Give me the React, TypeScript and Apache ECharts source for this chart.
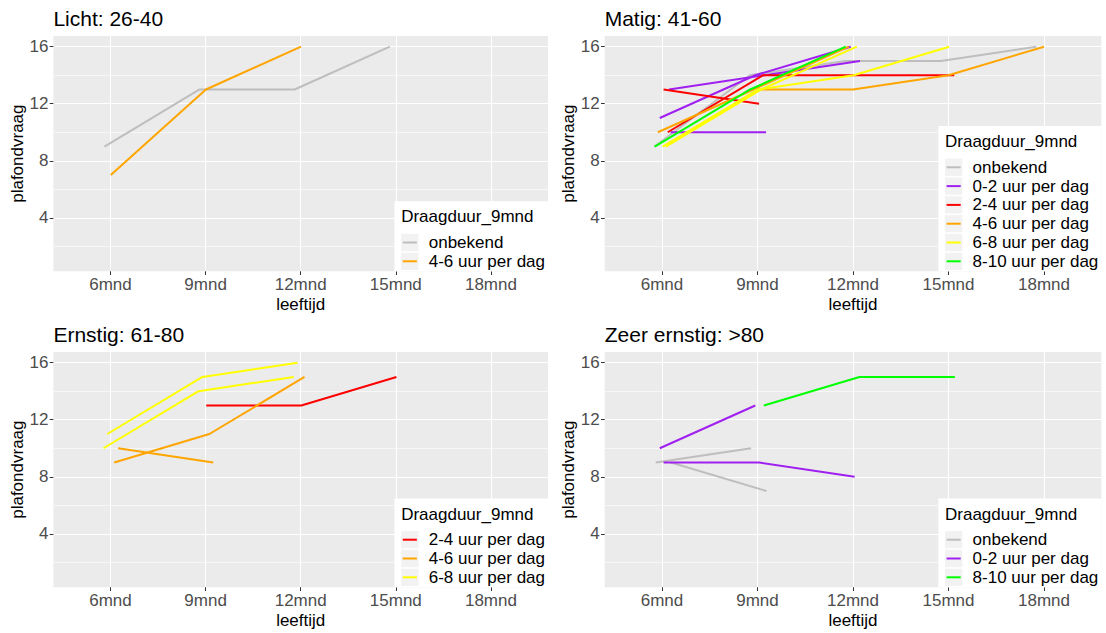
import React, { useEffect, useRef } from "react";
import * as echarts from "echarts";

// ---------- data ----------
const timepoints = [6, 9, 12, 15, 18];
const xTickValues = [6, 9, 12, 15, 18];
const xTickLabels = ["6mnd", "9mnd", "12mnd", "15mnd", "18mnd"];
const yTickValues = [4, 8, 12, 16];
const yMinorValues = [2, 6, 10, 14];
const xRange = [4.2, 19.8];
const yRange = [0.25, 16.75];

const groups = [
  "onbekend",
  "0-2 uur per dag",
  "2-4 uur per dag",
  "4-6 uur per dag",
  "6-8 uur per dag",
  "8-10 uur per dag",
];
const groupColors = ["#BEBEBE", "#A020F0", "#FF0000", "#FFA500", "#FFFF00", "#00FF00"];

const panelTitles = ["Licht: 26-40", "Matig: 41-60", "Ernstig: 61-80", "Zeer ernstig: >80"];
const legendTitle = "Draagduur_9mnd";
const xName = "leeftijd";
const yName = "plafondvraag";

type Subject = { group: string; jitter: number; values: (number | null)[] };

const lichtSubjects: Subject[] = [
  { group: "onbekend", jitter: -0.19, values: [9, 13, 13, 16, null] },
  { group: "4-6 uur per dag", jitter: 0.01, values: [7, 13, 16, null, null] },
];

const matigSubjects: Subject[] = [
  { group: "onbekend", jitter: -0.24, values: [9, 14, 15, 15, 16] },
  { group: "0-2 uur per dag", jitter: 0.22, values: [13, 14, 15, null, null] },
  { group: "0-2 uur per dag", jitter: -0.07, values: [11, 14, 16, null, null] },
  { group: "0-2 uur per dag", jitter: 0.27, values: [10, 10, null, null, null] },
  { group: "2-4 uur per dag", jitter: 0.05, values: [13, 12, null, null, null] },
  { group: "2-4 uur per dag", jitter: 0.18, values: [10, 14, 14, 14, null] },
  { group: "4-6 uur per dag", jitter: -0.13, values: [10, 13, 16, null, null] },
  { group: "4-6 uur per dag", jitter: 0.0, values: [null, 13, 13, 14, 16] },
  { group: "6-8 uur per dag", jitter: 0.02, values: [9, 13, 14, 16, null] },
  { group: "6-8 uur per dag", jitter: 0.12, values: [9, 13, 16, null, null] },
  { group: "8-10 uur per dag", jitter: -0.23, values: [9, 13, 16, null, null] },
];

const ernstigSubjects: Subject[] = [
  { group: "2-4 uur per dag", jitter: 0.02, values: [null, 13, 13, 15, null] },
  { group: "4-6 uur per dag", jitter: 0.12, values: [9, 11, 15, null, null] },
  { group: "4-6 uur per dag", jitter: 0.24, values: [10, 9, null, null, null] },
  { group: "6-8 uur per dag", jitter: -0.1, values: [11, 15, 16, null, null] },
  { group: "6-8 uur per dag", jitter: -0.22, values: [10, 14, 15, null, null] },
];

const zeerSubjects: Subject[] = [
  { group: "onbekend", jitter: -0.2, values: [9, 10, null, null, null] },
  { group: "onbekend", jitter: 0.28, values: [9, 7, null, null, null] },
  { group: "0-2 uur per dag", jitter: -0.07, values: [10, 13, null, null, null] },
  { group: "0-2 uur per dag", jitter: 0.05, values: [9, 9, 8, null, null] },
  { group: "8-10 uur per dag", jitter: 0.2, values: [null, 13, 15, 15, null] },
];

const panelSubjects = [lichtSubjects, matigSubjects, ernstigSubjects, zeerSubjects];

// ---------- layout ----------
const W = 1106;
const H = 633;
const FONT = '"Liberation Sans", Arial, Helvetica, sans-serif';
const GRIDS = [
  { left: 53.4, top: 36, width: 494.6, height: 235.3 },
  { left: 604.7, top: 36, width: 496.6, height: 235.3 },
  { left: 53.4, top: 352, width: 494.6, height: 235.3 },
  { left: 604.7, top: 352, width: 496.6, height: 235.3 },
];

function measure(text: string, size: number): number {
  const c = document.createElement("canvas").getContext("2d");
  if (!c) return text.length * size * 0.5;
  c.font = `${size}px "Liberation Sans", Arial, sans-serif`;
  return c.measureText(text).width;
}

function buildLegend(i: number): any[] {
  const g = GRIDS[i];
  const present = groups.filter((gr) => panelSubjects[i].some((s) => s.group === gr));
  const textW = Math.max(...present.map((t) => measure(t, 17)));
  const boxW = 6.7 + 27.6 + textW + 3;
  const boxH = 51.3 + (present.length - 1) * 18.8;
  const right = g.left + g.width;
  const bottom = g.top + g.height;
  const left = right - boxW;
  const top = bottom - boxH;
  const els: any[] = [
    { type: "rect", shape: { x: left, y: top, width: boxW, height: boxH }, style: { fill: "#FFFFFF" }, z: 100 },
    {
      type: "text",
      x: left + 6.7,
      y: top + 15.7,
      z: 101,
      style: { text: legendTitle, fontSize: 17, fontFamily: FONT, fill: "#000000", align: "left", verticalAlign: "middle" },
    },
  ];
  present.forEach((gr, k) => {
    const cy = top + 15.7 + 25.6 + k * 18.8;
    const color = groupColors[groups.indexOf(gr)];
    els.push({
      type: "rect",
      shape: { x: left + 6.7, y: cy - 8.65, width: 17.3, height: 17.3 },
      style: { fill: "#F2F2F2" },
      z: 101,
    });
    els.push({
      type: "line",
      shape: { x1: left + 8.3, y1: cy, x2: left + 22.4, y2: cy },
      style: { stroke: color, lineWidth: 2 },
      z: 102,
    });
    els.push({
      type: "text",
      x: left + 34.3,
      y: cy,
      z: 102,
      style: { text: gr, fontSize: 17, fontFamily: FONT, fill: "#000000", align: "left", verticalAlign: "middle" },
    });
  });
  return els;
}

export default function App() {
  const ref = useRef<HTMLDivElement>(null);

  useEffect(() => {
    if (!ref.current) return;
    const chart = echarts.init(ref.current, undefined, { renderer: "svg", width: W, height: H });

    const grid = GRIDS.map((g) => ({ ...g, show: true, backgroundColor: "#EBEBEB", borderWidth: 0, containLabel: false }));

    const xAxis = GRIDS.map((_, i) => ({
      type: "value",
      gridIndex: i,
      min: xRange[0],
      max: xRange[1],
      name: xName,
      nameLocation: "middle",
      nameGap: 25,
      nameTextStyle: { fontSize: 17, color: "#000000", fontFamily: FONT },
      axisLine: { show: false },
      axisTick: { show: true, length: 3.7, lineStyle: { color: "#333333", width: 1 }, customValues: xTickValues },
      axisLabel: {
        customValues: xTickValues,
        formatter: (v: number) => {
          const k = xTickValues.indexOf(v);
          return k >= 0 ? xTickLabels[k] : "";
        },
        fontSize: 17,
        color: "#4D4D4D",
        fontFamily: FONT,
        margin: 5,
      },
      splitLine: { show: true, lineStyle: { color: "#FFFFFF", width: 1.1 } },
    }));

    const yMajor = GRIDS.map((_, i) => ({
      type: "value",
      gridIndex: i,
      min: yRange[0],
      max: yRange[1],
      name: yName,
      nameLocation: "middle",
      nameGap: 27,
      nameRotate: 90,
      nameTextStyle: { fontSize: 17, color: "#000000", fontFamily: FONT },
      axisLine: { show: false },
      axisTick: { show: true, length: 3.7, lineStyle: { color: "#333333", width: 1 }, customValues: yTickValues },
      axisLabel: {
        customValues: yTickValues,
        fontSize: 17,
        color: "#4D4D4D",
        fontFamily: FONT,
        margin: 5,
      },
      splitLine: { show: true, lineStyle: { color: "#FFFFFF", width: 1.1 } },
    }));

    const yMinor = GRIDS.map((_, i) => ({
      type: "value",
      gridIndex: i,
      min: yRange[0],
      max: yRange[1],
      axisLine: { show: false },
      axisTick: { show: false, customValues: yMinorValues },
      axisLabel: { show: false, customValues: yMinorValues },
      splitLine: { show: true, lineStyle: { color: "#FFFFFF", width: 0.6 } },
    }));

    const series: any[] = [];
    panelSubjects.forEach((subs, i) => {
      subs.forEach((s) => {
        const color = groupColors[groups.indexOf(s.group)];
        const data = timepoints
          .map((t, k) => (s.values[k] == null ? null : [t + s.jitter, s.values[k]]))
          .filter((d) => d !== null);
        series.push({
          type: "line",
          name: s.group,
          xAxisIndex: i,
          yAxisIndex: i,
          data,
          showSymbol: false,
          symbol: "none",
          silent: true,
          lineStyle: { color, width: 2 },
          itemStyle: { color },
          z: 3,
        });
      });
    });

    const title = panelTitles.map((t, i) => ({
      text: t,
      left: GRIDS[i].left,
      top: GRIDS[i].top - 28,
      padding: 0,
      textStyle: { fontSize: 21, fontWeight: "normal", color: "#000000", fontFamily: FONT },
    }));

    const graphic = GRIDS.flatMap((_, i) => buildLegend(i));

    chart.setOption({
      animation: false,
      backgroundColor: "#FFFFFF",
      textStyle: { fontFamily: FONT },
      title,
      grid,
      xAxis,
      yAxis: [...yMajor, ...yMinor],
      series,
      graphic,
    });

    return () => chart.dispose();
  }, []);

  return (
    <div
      ref={ref}
      style={{ position: "absolute", left: 0, top: 0, width: W, height: H, background: "#FFFFFF" }}
    />
  );
}
